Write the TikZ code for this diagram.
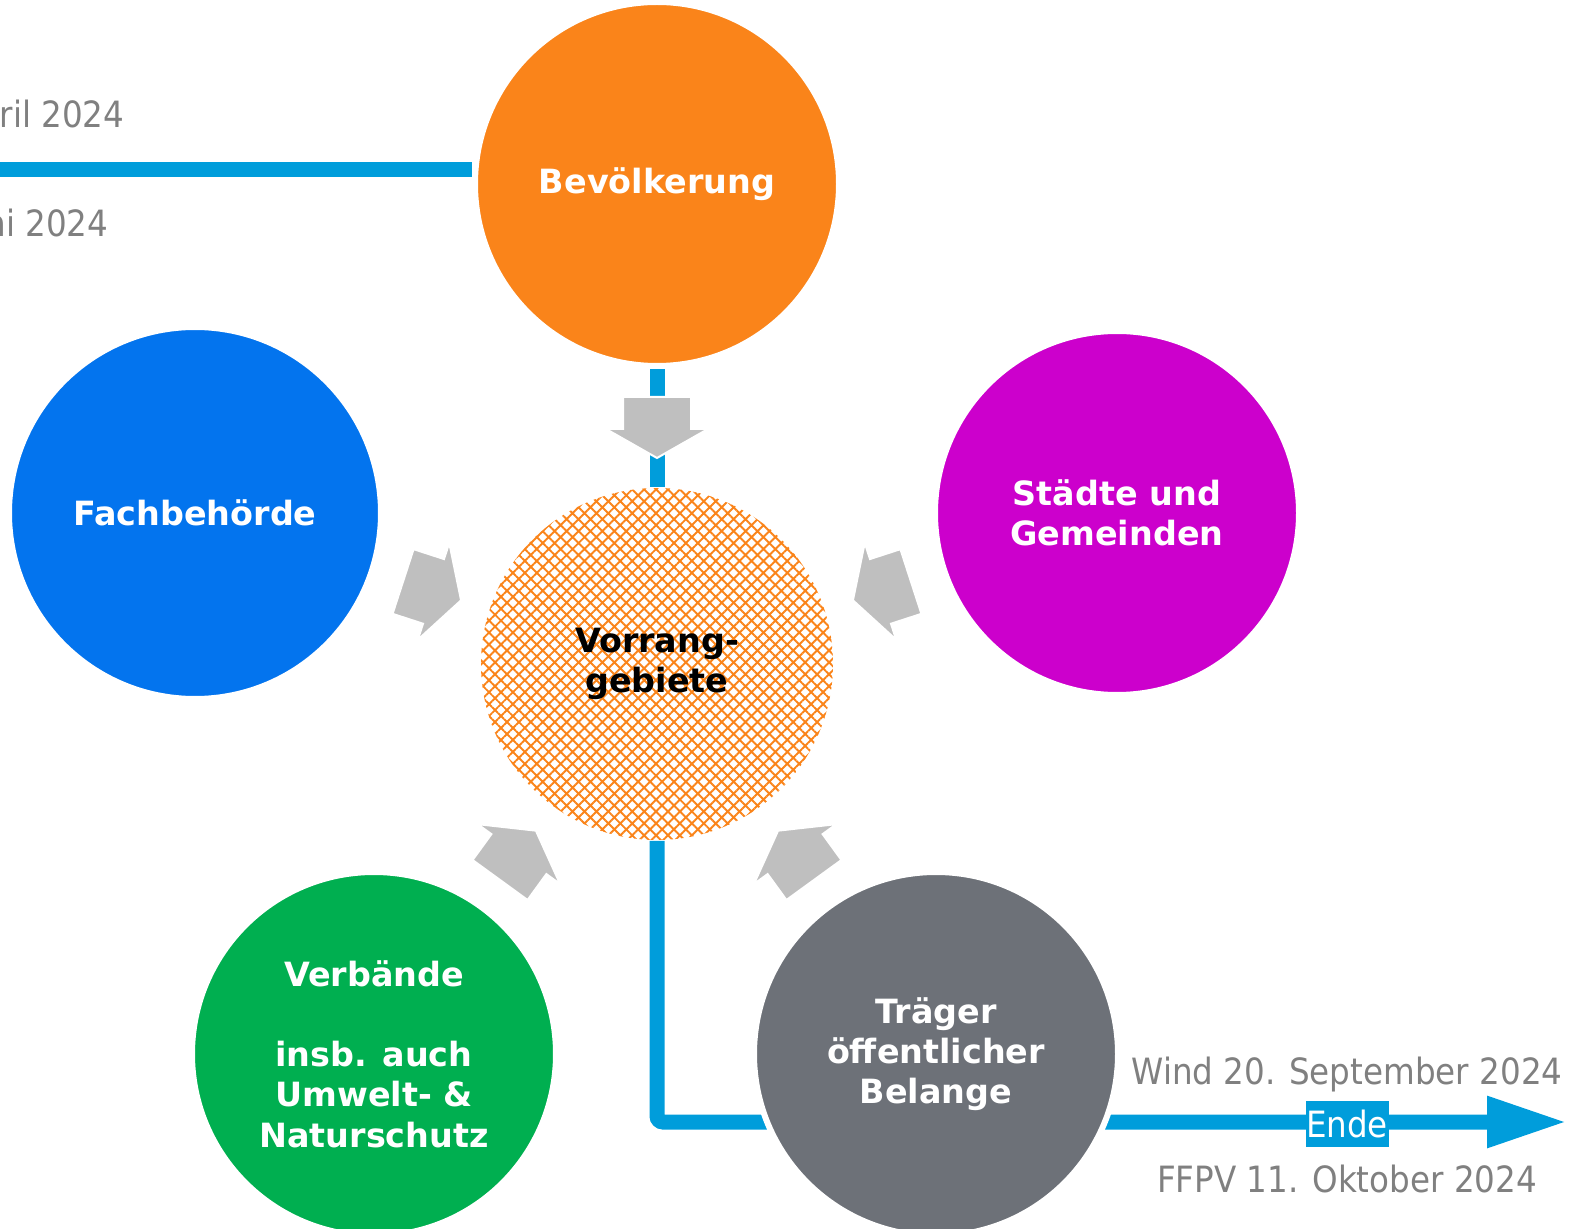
\documentclass[tikz,border=0pt]{standalone}
\usepackage{fontspec}
\setmainfont{DejaVu Sans}
\newfontfamily\datefont{DejaVu Sans Condensed}
\usepackage{tikz}
\usetikzlibrary{arrows.meta,patterns.meta,backgrounds}
\definecolor{orangeB}{RGB}{250,132,26}
\definecolor{blauF}{RGB}{3,116,238}
\definecolor{magentaS}{RGB}{204,0,204}
\definecolor{gruenV}{RGB}{0,175,80}
\definecolor{grauT}{RGB}{109,113,120}
\definecolor{blauL}{RGB}{0,157,219}
\definecolor{grauP}{RGB}{191,191,191}
\definecolor{grauD}{RGB}{128,128,128}
\tikzset{
  kreis/.style={circle,draw=white,line width=0.6mm,minimum size=36.4mm,inner sep=0pt,
    align=center,text=white,font=\bfseries\fontsize{9.5}{11.45}\selectfont},
  pfeil/.style={fill=grauP,draw=white,line width=0.2mm},
  datum/.style={text=grauD,font=\datefont\fontsize{10.3}{12}\selectfont,inner sep=0pt},
  strang/.style={draw=blauL,line width=1.5mm}
}

\begin{document}
\begin{tikzpicture}[x=0.1mm,y=-0.1mm]
\useasboundingbox (0,0) rectangle (1577,1229);
\clip (0,0) rectangle (1577,1229);
% Kreise
\node[kreis,fill=orangeB] (bev) at (657,184) {Bevölkerung};
\node[kreis,fill=blauF,minimum size=37.2mm] (fach) at (195,513) {Fachbehörde};
\node[kreis,fill=magentaS] (staedte) at (1117,513) {Städte und\\Gemeinden};
\node[kreis,fill=gruenV] (verb) at (374,1054) {Verbände\\[11.45pt]insb. auch\\Umwelt- \&\\Naturschutz};
\node[kreis,fill=grauT] (traeger) at (936,1054) {Träger\\öffentlicher\\Belange};
\node[circle,minimum size=35.2mm,inner sep=0pt,align=center,
  pattern={Hatch[angle=45,distance=2.4pt,line width=0.55pt]},pattern color=orangeB,
  font=\bfseries\fontsize{9.5}{11.45}\selectfont] (vorrang) at (657,664) {Vorrang-\\gebiete};
% Zeitstrahl
\begin{scope}[on background layer]
\coordinate (links) at (0,170);
\coordinate (ziel) at (1567,1122);
\draw[strang] (links) -- (bev.west |- links);
\draw[strang] (bev.south) -- (vorrang.north);
\draw[strang,rounded corners=0.6mm,-{Triangle[length=8mm,width=4.8mm]}] (vorrang.south) |- (ziel);
\end{scope}
% Pfeile zur Mitte
\foreach \w in {90,162,234,306,18}
  \draw[pfeil,shift={(vorrang.center)},rotate=\w] (267,34) -- (235,34) -- (235,51) -- (206,0)
    -- (235,-51) -- (235,-34) -- (267,-34) -- cycle;
\node[fill=blauL,text=white,font=\datefont\fontsize{10.3}{12}\selectfont,
  minimum width=8.3mm,minimum height=4.6mm,inner sep=0pt] (ende) at (1347,1124) {Ende};
\node[datum,anchor=base] (wind) at (1347,1084) {Wind 20. September 2024};
\node[datum,anchor=base] (ffpv) at (1347,1192) {FFPV 11. Oktober 2024};
\node[datum,anchor=base east] (april) at (125,128) {ril 2024};
\node[datum,anchor=base east] (juni) at (109,237) {ni 2024};
\end{tikzpicture}
\end{document}
